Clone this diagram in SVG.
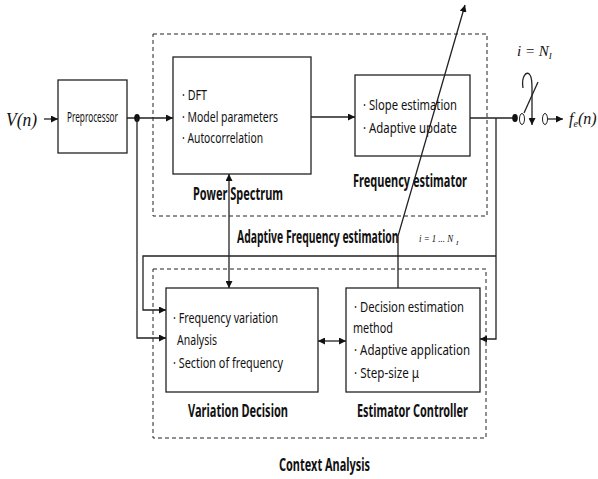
<svg xmlns="http://www.w3.org/2000/svg" width="598" height="479" viewBox="0 0 598 479">
  <defs>
    <style>
      .box { fill: #fff; stroke: #222; stroke-width: 1.3; }
      .frame { fill: none; stroke: #222; stroke-width: 1; stroke-dasharray: 4 3; }
      .wire { fill: none; stroke: #222; stroke-width: 1.3; }
      .t { font-family: "Noto Sans", "Liberation Sans", sans-serif; font-size: 15px; fill: #111; }
      .lb { font-family: "Noto Sans", "Liberation Sans", sans-serif; font-size: 17px; font-weight: bold; fill: #111; }
      .m { font-family: "Liberation Serif", "DejaVu Serif", serif; font-style: italic; fill: #111; }
    </style>
    <marker id="ah" viewBox="0 0 10 10" refX="10" refY="5" markerWidth="7" markerHeight="7" markerUnits="userSpaceOnUse" orient="auto-start-reverse">
      <path d="M0,0 L10,5 L0,10 z" fill="#111"/>
    </marker>
  </defs>

  <!-- dashed grouping frames -->
  <g id="frame-adaptive">
    <rect class="frame" x="153" y="34" width="334" height="182"/>
    <text class="lb" transform="translate(237,243) scale(0.61,1)" x="0" y="0">Adaptive Frequency estimation</text>
    <text class="m" transform="translate(419,242) scale(0.8,1)" x="0" y="0" font-size="11">i = 1 ... N</text>
    <text class="m" x="456" y="245" font-size="7">I</text>
  </g>
  <g id="frame-context">
    <rect class="frame" x="153" y="269" width="333" height="169"/>
    <text class="lb" x="279" y="471" textLength="91" lengthAdjust="spacingAndGlyphs">Context Analysis</text>
  </g>

  <!-- input / output labels -->
  <g id="input">
    <text class="m" x="6" y="126" font-size="19" textLength="31" lengthAdjust="spacingAndGlyphs">V(n)</text>
  </g>
  <g id="output">
    <text class="m" x="569" y="124" font-size="16">f<tspan font-size="10" dy="3">e</tspan><tspan dy="-3">(n)</tspan></text>
    <text class="m" x="517" y="56" font-size="15">i = N<tspan font-size="9" dy="3">I</tspan></text>
  </g>

  <!-- blocks -->
  <g id="preprocessor">
    <rect class="box" x="58" y="80" width="69" height="73"/>
    <text class="t" x="67" y="122" font-size="13" textLength="51" lengthAdjust="spacingAndGlyphs">Preprocessor</text>
  </g>

  <g id="power-spectrum">
    <rect class="box" x="173" y="57" width="138" height="117"/>
    <text class="t" x="182" y="100" textLength="25" lengthAdjust="spacingAndGlyphs">· DFT</text>
    <text class="t" x="182" y="122" textLength="96" lengthAdjust="spacingAndGlyphs">· Model parameters</text>
    <text class="t" x="182" y="143" textLength="81" lengthAdjust="spacingAndGlyphs">· Autocorrelation</text>
    <text class="lb" x="193" y="200" textLength="90" lengthAdjust="spacingAndGlyphs">Power Spectrum</text>
  </g>

  <g id="frequency-estimator">
    <rect class="box" x="355" y="75" width="115" height="81"/>
    <text class="t" x="363" y="110" textLength="94" lengthAdjust="spacingAndGlyphs">· Slope estimation</text>
    <text class="t" x="363" y="133" textLength="94" lengthAdjust="spacingAndGlyphs">· Adaptive update</text>
    <text class="lb" x="353" y="187" textLength="114" lengthAdjust="spacingAndGlyphs">Frequency estimator</text>
  </g>

  <g id="variation-decision">
    <rect class="box" x="166" y="288" width="152" height="104"/>
    <text class="t" x="173" y="323" textLength="105" lengthAdjust="spacingAndGlyphs">· Frequency variation</text>
    <text class="t" x="177" y="345" textLength="40" lengthAdjust="spacingAndGlyphs">Analysis</text>
    <text class="t" x="173" y="368" textLength="110" lengthAdjust="spacingAndGlyphs">· Section of frequency</text>
    <text class="lb" x="188" y="417" textLength="100" lengthAdjust="spacingAndGlyphs">Variation Decision</text>
  </g>

  <g id="estimator-controller">
    <rect class="box" x="346" y="288" width="134" height="104"/>
    <text class="t" x="354" y="312" textLength="110" lengthAdjust="spacingAndGlyphs">· Decision estimation</text>
    <text class="t" x="353" y="333" textLength="40" lengthAdjust="spacingAndGlyphs">method</text>
    <text class="t" x="354" y="355" textLength="116" lengthAdjust="spacingAndGlyphs">· Adaptive application</text>
    <text class="t" x="354" y="378" textLength="65" lengthAdjust="spacingAndGlyphs">· Step-size μ</text>
    <text class="lb" x="357" y="417" textLength="111" lengthAdjust="spacingAndGlyphs">Estimator Controller</text>
  </g>

  <!-- connectors -->
  <g id="connectors">
    <line class="wire" x1="44" y1="119" x2="58" y2="119" marker-end="url(#ah)"/>
    <line class="wire" x1="127" y1="118" x2="173" y2="118" marker-end="url(#ah)"/>
    <ellipse cx="137" cy="118" rx="2.8" ry="4" fill="#111"/>
    <polyline class="wire" points="137,118 137,338 166,338" marker-end="url(#ah)"/>
    <line class="wire" x1="311" y1="117" x2="355" y2="117" marker-end="url(#ah)"/>
    <line class="wire" x1="470" y1="118" x2="515" y2="118"/>
    <ellipse cx="515" cy="118" rx="2.8" ry="4" fill="#111"/>
    <polyline class="wire" points="496,118 496,339 480,339" marker-end="url(#ah)"/>
    <polyline class="wire" points="496,256 143,256 143,310 166,310" marker-end="url(#ah)"/>
    <line class="wire" x1="318" y1="341" x2="346" y2="341" marker-start="url(#ah)" marker-end="url(#ah)"/>
    <line class="wire" x1="229" y1="174" x2="229" y2="288" marker-start="url(#ah)" marker-end="url(#ah)"/>
    <polyline class="wire" points="398,288 398,236 465,5" marker-end="url(#ah)"/>

    <!-- output switch: blade, throw arrow and contacts -->
    <ellipse cx="522" cy="119" rx="2.5" ry="5.5" fill="none" stroke="#222" stroke-width="1"/>
    <line class="wire" x1="538" y1="82" x2="524" y2="113" stroke-width="1"/>
    <path class="wire" d="M523,88 C521,76 527,70 530,75 C532,78 532,82 532,88 L532,125" stroke-width="1" marker-end="url(#ah)"/>
    <ellipse cx="545" cy="119" rx="2.5" ry="5.5" fill="none" stroke="#222" stroke-width="1"/>
    <line class="wire" x1="548" y1="119" x2="563" y2="119" marker-end="url(#ah)"/>
  </g>
</svg>
